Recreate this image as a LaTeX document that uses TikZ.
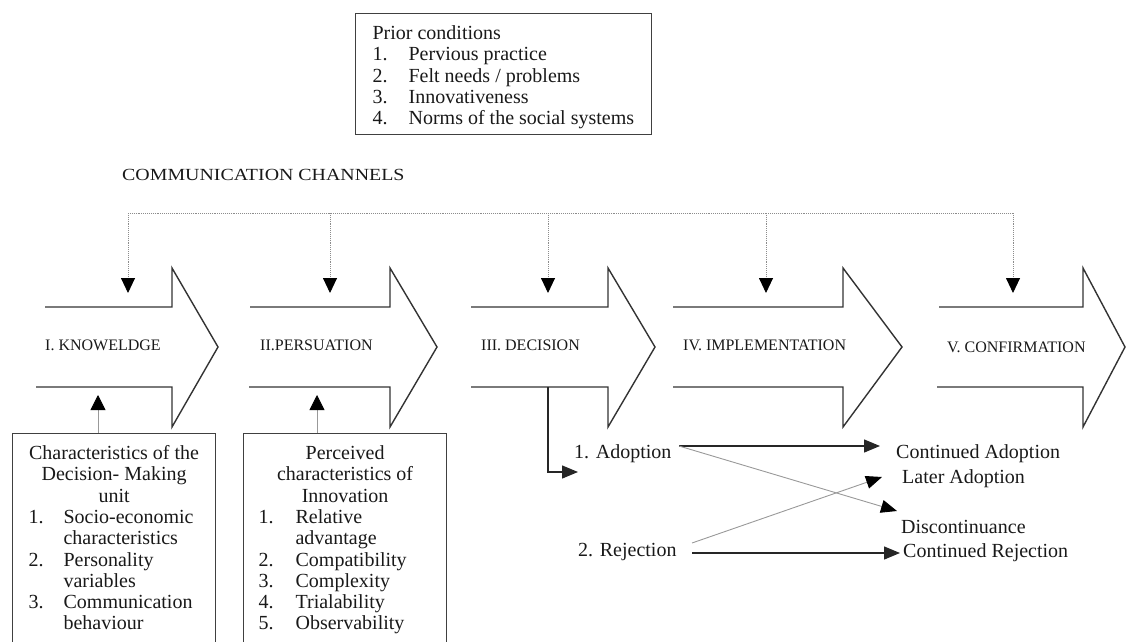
\documentclass[tikz,border=0pt]{standalone}
\usepackage{fontspec}
\setmainfont{Liberation Serif}
\usepackage{array}
\usepackage{graphicx}
\usetikzlibrary{arrows.meta}

\begin{document}
\begin{tikzpicture}[x=1pt, y=-1pt,
	stage/.style={draw=black!80, line width=1.4pt},
	stagelabel/.style={anchor=west, inner sep=0pt, text=black!90, font=\fontsize{16}{18}\selectfont},
	textbox/.style={draw=black!75, line width=1.2pt, anchor=north west, inner ysep=11pt, text=black!90, font=\fontsize{20}{21.3}\selectfont},
	plain/.style={anchor=west, inner sep=0pt, text=black!90, font=\fontsize{20}{21.3}\selectfont},
	channel/.style={densely dotted, line width=0.9pt, black!45},
	channelarrow/.style={channel, -{Triangle[length=15pt, width=14pt, color=black]}},
	feed/.style={line width=0.8pt, black!40, -{Triangle[length=15pt, width=15pt, color=black]}},
	flow/.style={line width=1.4pt, black!85, -{Triangle[length=16pt, width=13pt]}},
	cross/.style={line width=0.9pt, black!40, -{Triangle[length=16pt, width=13pt, color=black]}}]

	\useasboundingbox (0,0) rectangle (1127,642);
	\clip (0,0) rectangle (1127,642);

	%% Prior conditions
	\node[textbox, inner xsep=17pt, text depth=84pt] (prior) at (355,13) {\begin{tabular}[t]{@{}p{36pt}@{}l@{}}
		\multicolumn{2}{@{}l@{}}{Prior conditions}\\
		1. & Pervious practice\\
		2. & Felt needs / problems\\
		3. & Innovativeness\\
		4. & Norms of the social systems
	\end{tabular}};

	\node[plain, font=\fontsize{17}{20}\selectfont] (channels) at (122,175) {\scalebox{1.17}[1]{COMMUNICATION CHANNELS}};

	%% Stages
	\draw[stage] (45,307) -- (172,307) -- (172,268) -- (218,347) -- (172,427) -- (172,387) -- (36,387);
	\draw[stage] (250,307) -- (390,307) -- (390,268) -- (437,347) -- (390,427) -- (390,387) -- (249,387);
	\draw[stage] (471,307) -- (608,307) -- (608,268) -- (655,347) -- (608,427) -- (608,387) -- (471,387);
	\draw[stage] (673,307) -- (843,307) -- (843,268) -- (902,347) -- (843,427) -- (843,387) -- (673,387);
	\draw[stage] (939,307) -- (1083,307) -- (1083,268) -- (1125,347) -- (1083,427) -- (1083,387) -- (937,387);

	\node[stagelabel] (knowledge) at (45,345) {I. KNOWELDGE};
	\node[stagelabel] (persuasion) at (260,345) {II.PERSUATION};
	\node[stagelabel] (decision) at (481,345) {III. DECISION};
	\node[stagelabel] (implementation) at (683,345) {IV. IMPLEMENTATION};
	\node[stagelabel] (confirmation) at (947,347) {V. CONFIRMATION};

	%% Communication channels
	\coordinate (ch_1) at (128,213);
	\coordinate (ch_2) at (330,213);
	\coordinate (ch_3) at (548,213);
	\coordinate (ch_4) at (766,213);
	\coordinate (ch_5) at (1013,213);
	\coordinate (in_1) at (128,293);
	\coordinate (in_2) at (330,293);
	\coordinate (in_3) at (548,293);
	\coordinate (in_4) at (766,293);
	\coordinate (in_5) at (1013,293);

	\draw[channel] (ch_1) -- (ch_5);
	\draw[channelarrow] (ch_1) -- (in_1);
	\draw[channelarrow] (ch_2) -- (in_2);
	\draw[channelarrow] (ch_3) -- (in_3);
	\draw[channelarrow] (ch_4) -- (in_4);
	\draw[channelarrow] (ch_5) -- (in_5);

	%% Characteristics boxes
	\node[textbox, inner xsep=16pt, text depth=300pt] (dmu) at (12,433) {\begin{tabular}[t]{@{}p{35pt}@{}p{136pt}@{}}
		\multicolumn{2}{@{}c@{}}{Characteristics of the}\\
		\multicolumn{2}{@{}c@{}}{Decision- Making}\\
		\multicolumn{2}{@{}c@{}}{unit}\\
		1. & Socio-economic\\
		   & characteristics\\
		2. & Personality\\
		   & variables\\
		3. & Communication\\
		   & behaviour
	\end{tabular}};

	\node[textbox, inner xsep=15pt, text depth=300pt] (innov) at (243,433) {\begin{tabular}[t]{@{}p{37pt}@{}p{136pt}@{}}
		\multicolumn{2}{@{}c@{}}{Perceived}\\
		\multicolumn{2}{@{}c@{}}{characteristics of}\\
		\multicolumn{2}{@{}c@{}}{Innovation}\\
		1. & Relative\\
		   & advantage\\
		2. & Compatibility\\
		3. & Complexity\\
		4. & Trialability\\
		5. & Observability
	\end{tabular}};

	\coordinate (k_up) at (98,395);
	\coordinate (p_up) at (317,395);
	\draw[feed] (dmu.north -| k_up) -- (k_up);
	\draw[feed] (innov.north -| p_up) -- (p_up);

	%% Decision outcomes
	\node[plain] (adopt) at (574,454) {1. Adoption};
	\node[plain] (reject) at (578,552) {2. Rejection};
	\node[plain] (cont_adopt) at (896,454) {Continued Adoption};
	\node[plain] (later_adopt) at (902,479) {Later Adoption};
	\node[plain] (discont) at (901,527) {Discontinuance};
	\node[plain] (cont_reject) at (903,553) {Continued Rejection};

	\coordinate (dec_out) at (548,387);
	\coordinate (adopt_in) at (578,472);
	\coordinate (adopt_out) at (679,446);
	\coordinate (reject_up) at (692,543);
	\coordinate (reject_out) at (692,553);
	\coordinate (ca_in) at (880,446);
	\coordinate (la_in) at (882,477);
	\coordinate (dc_in) at (897,511);
	\coordinate (cr_in) at (900,553);

	\draw[flow] (dec_out) |- (adopt_in);
	\draw[flow] (adopt_out) -- (ca_in);
	\draw[cross] (adopt_out) -- (dc_in);
	\draw[cross] (reject_up) -- (la_in);
	\draw[flow] (reject_out) -- (cr_in);

\end{tikzpicture}
\end{document}
